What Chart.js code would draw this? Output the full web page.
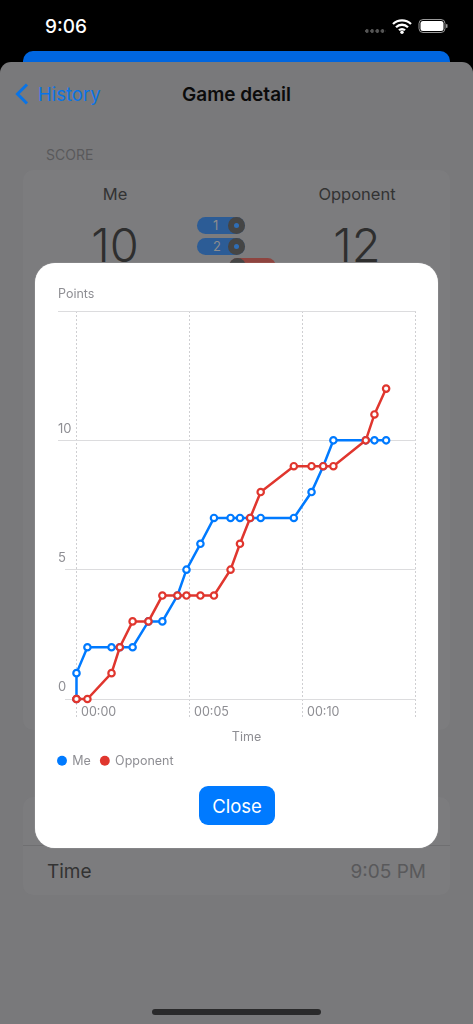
<!DOCTYPE html>
<html>
<head>
<meta charset="utf-8">
<title>Game detail</title>
<script src="https://cdn.jsdelivr.net/npm/chart.js@4"></script>
<style>
  html, body { margin: 0; padding: 0; background: #000; }
  body { position: relative; width: 473px; height: 1024px; overflow: hidden; font-family: Inter, Roboto, sans-serif; }
  .abs { position: absolute; white-space: nowrap; }
  .center { transform: translateX(-50%); }
  #sheet { left: 0; top: 62px; width: 473px; height: 962px; background: #79797b; border-radius: 11px 11px 0 0; }
  .card { left: 23px; width: 427px; background: #7c7c7e; border-radius: 10px; }
  .pill { height: 17px; width: 48px; background: #2c5c96; border-radius: 9px; color: #8c8c8e; font-size: 13px; line-height: 17px; text-indent: 16px; }
  .knob { position: absolute; right: 0; top: 0; width: 17px; height: 17px; border-radius: 50%; background: #454545; }
  .knob i { position: absolute; left: 6px; top: 6px; width: 5px; height: 5px; border-radius: 50%; background: #2f6db5; }
  #modal { left: 35px; top: 263px; width: 403px; height: 585px; background: #fff; border-radius: 20px; box-shadow: 0 0 1px rgba(255,255,255,.7); }
  #chartBox { position: absolute; left: 0; top: 0; width: 403px; height: 514px; }
  #closeBtn { left: 199px; top: 786px; width: 76px; height: 39px; background: #007aff; color: #fff; border-radius: 9px; font-size: 18.5px; line-height: 41px; text-align: center; }
</style>
</head>
<body>
<div class="abs" style="left:45px;top:15px;color:#fff;font-size:19px;font-weight:500">9:06</div>
<div class="abs" style="left:365px;top:29px;width:21px;height:4px;background:radial-gradient(circle at 2px 2px,#555 1.6px,transparent 2px) 0 0/5.2px 4px"></div>
<svg class="abs" style="left:392px;top:18px" width="20" height="16" viewBox="0 0 20 16">
  <path d="M1 6a13 13 0 0 1 18 0M4 9.2a8.6 8.6 0 0 1 12 0M7 12.3a4.2 4.2 0 0 1 6 0" fill="none" stroke="#fff" stroke-width="2.3"/>
  <circle cx="10" cy="14.2" r="1.7" fill="#fff"/>
</svg>
<svg class="abs" style="left:418px;top:18px" width="31" height="16" viewBox="0 0 31 16">
  <rect x="1" y="1.5" width="26" height="13" rx="4" fill="none" stroke="#999" stroke-width="1"/>
  <rect x="2.5" y="3" width="23" height="10" rx="2.5" fill="#fff"/>
  <rect x="28" y="6" width="1.5" height="4" rx="0.7" fill="#999"/>
</svg>
<div class="abs" style="left:23px;top:51px;width:427px;height:30px;background:#0066e0;border-radius:10px 10px 0 0"></div>

<div id="sheet" class="abs"></div>
<svg class="abs" style="left:14px;top:82px" width="16" height="24" viewBox="0 0 16 24">
  <path d="M13 2.5 3.5 12l9.5 9.5" fill="none" stroke="#0a74e6" stroke-width="3"/>
</svg>
<div class="abs" style="left:38px;top:83px;color:#0a74e6;font-size:18.5px">History</div>
<div class="abs center" style="left:236.5px;top:83px;color:#0b0b0b;font-size:19px;font-weight:600">Game detail</div>
<div class="abs" style="left:46px;top:146px;color:#59595b;font-size:14px">SCORE</div>

<div class="abs card" style="top:170px;height:560px"></div>
<div class="abs center" style="left:115px;top:184px;color:#333;font-size:16.5px">Me</div>
<div class="abs center" style="left:357px;top:184px;color:#333;font-size:16.5px">Opponent</div>
<div class="abs center" style="left:115px;top:216px;color:#2e2e2e;font-size:47px;font-weight:300">10</div>
<div class="abs center" style="left:357px;top:216px;color:#2e2e2e;font-size:47px;font-weight:300">12</div>
<div class="abs pill" style="left:197px;top:217px">1<span class="knob"><i></i></span></div>
<div class="abs pill" style="left:197px;top:238px">2<span class="knob"><i></i></span></div>
<div class="abs" style="left:229px;top:258px;width:47px;height:17px;background:#8e443f;border-radius:9px"></div>
<div class="abs" style="left:229px;top:258px;width:17px;height:17px;background:#454545;border-radius:50%"></div>

<div class="abs card" style="top:797px;height:98px"></div>
<div class="abs" style="left:23px;top:845px;width:427px;height:1px;background:#6f6f71"></div>
<div class="abs" style="left:47px;top:860px;color:#333;font-size:19px">Time</div>
<div class="abs" style="right:47px;top:860px;color:#59595b;font-size:19px">9:05 PM</div>
<div class="abs" style="left:152px;top:1009px;width:169px;height:6px;background:#2a2a2b;border-radius:3px"></div>

<div id="modal" class="abs">
  <div id="chartBox"><canvas id="myChart"></canvas></div>
</div>
<div id="closeBtn" class="abs">Close</div>

<script>
// game events: seconds since start, running score of each player after that event
var times = [0, 0, 29, 93, 115, 149, 191, 228, 268, 292, 329, 365, 409, 434, 461, 489, 577, 624, 655, 682, 768, 791, 822];
var meScores = [0, 1, 2, 2, 2, 2, 3, 3, 4, 5, 6, 7, 7, 7, 7, 7, 7, 8, 9, 10, 10, 10, 10];
var opponentScores = [0, 0, 0, 1, 2, 3, 3, 4, 4, 4, 4, 4, 5, 6, 7, 8, 9, 9, 9, 9, 10, 11, 12];
var seriesNames = ['Me', 'Opponent'];
var seriesColors = ['#007aff', '#e0362e'];

var xTickValues = [0, 300, 600, 900];
var xTickLabels = ['\u2009\u200900:00', '\u2009\u200900:05', '\u2009\u200900:10', ''];
var yTickValues = [0, 5, 10, 15];
var yTickLabels = ['0', '5', '10', ''];

var labelColor = '#8e8e93';
var gridColor = '#dcdcde';
var dashColor = '#cfcfd2';

function points(values) {
  return values.map(function (v, i) { return { x: times[i], y: v }; });
}

function lineDataset(i, values, order) {
  return {
    label: seriesNames[i],
    data: points(values),
    order: order,
    borderColor: seriesColors[i],
    backgroundColor: '#fff',
    borderWidth: 2.5,
    pointRadius: 3.2,
    pointBorderWidth: 2.2,
    pointBackgroundColor: '#fff',
    pointBorderColor: seriesColors[i],
    tension: 0,
    clip: false
  };
}

// the legend starts its row one item gap in from its box, pull it back to the title's edge
var legendShift = {
  id: 'legendShift',
  afterLayout: function (chart) { chart.legend.left -= 10; }
};

Chart.defaults.font.family = 'Inter, Roboto, sans-serif';
Chart.defaults.font.size = 12.5;
Chart.defaults.color = labelColor;

var ctx = document.getElementById('myChart').getContext('2d');

var myChart = new Chart(ctx, {
  type: 'line',
  data: {
    datasets: [lineDataset(0, meScores, 1), lineDataset(1, opponentScores, 0)]
  },
  plugins: [legendShift],
  options: {
    responsive: true,
    maintainAspectRatio: false,
    animation: false,
    layout: { padding: { left: 23, right: 22.5, top: 24, bottom: 0 } },
    plugins: {
      tooltip: { enabled: false },
      title: {
        display: true,
        text: 'Points',
        align: 'start',
        color: labelColor,
        font: { size: 12.5, weight: 'normal' },
        padding: { top: 0, bottom: 9 }
      },
      legend: {
        position: 'bottom',
        align: 'start',
        labels: {
          usePointStyle: true,
          boxWidth: 8,
          boxHeight: 7,
          padding: 10,
          color: labelColor,
          font: { size: 12.5 },
          generateLabels: function () {
            return seriesNames.map(function (name, i) {
              return {
                text: name,
                datasetIndex: i,
                fillStyle: seriesColors[i],
                strokeStyle: seriesColors[i],
                lineWidth: 0,
                pointStyle: 'circle',
                fontColor: labelColor
              };
            });
          }
        }
      }
    },
    scales: {
      x: {
        type: 'linear',
        min: -30.5,
        max: 900,
        afterBuildTicks: function (scale) {
          scale.ticks = xTickValues.map(function (v) { return { value: v }; });
        },
        afterFit: function (scale) { scale.height = 45.5; },
        grid: {
          color: dashColor,
          tickColor: dashColor,
          tickLength: 19,
          tickBorderDash: [2, 2]
        },
        border: { display: false, dash: [2, 2] },
        ticks: {
          autoSkip: false,
          maxRotation: 0,
          align: 'start',
          padding: -13.5,
          font: { size: 12.5 },
          callback: function (v) { return xTickLabels[xTickValues.indexOf(v)]; }
        },
        title: {
          display: true,
          text: '\u2003Time',
          color: labelColor,
          font: { size: 12.5 },
          padding: { top: 0, bottom: 0 }
        }
      },
      y: {
        min: 0,
        max: 15,
        afterBuildTicks: function (scale) {
          scale.ticks = yTickValues.map(function (v) { return { value: v }; });
        },
        afterFit: function (scale) { scale.width = 7; },
        grid: {
          color: gridColor,
          tickLength: 7,
          tickColor: function (c) { return c.tick && c.tick.value >= 10 ? gridColor : 'transparent'; }
        },
        border: { display: false },
        ticks: {
          mirror: true,
          labelOffset: -11.5,
          padding: -7,
          font: { size: 13 },
          callback: function (v) { return yTickLabels[yTickValues.indexOf(v)]; }
        }
      }
    }
  }
});
</script>
</body>
</html>
